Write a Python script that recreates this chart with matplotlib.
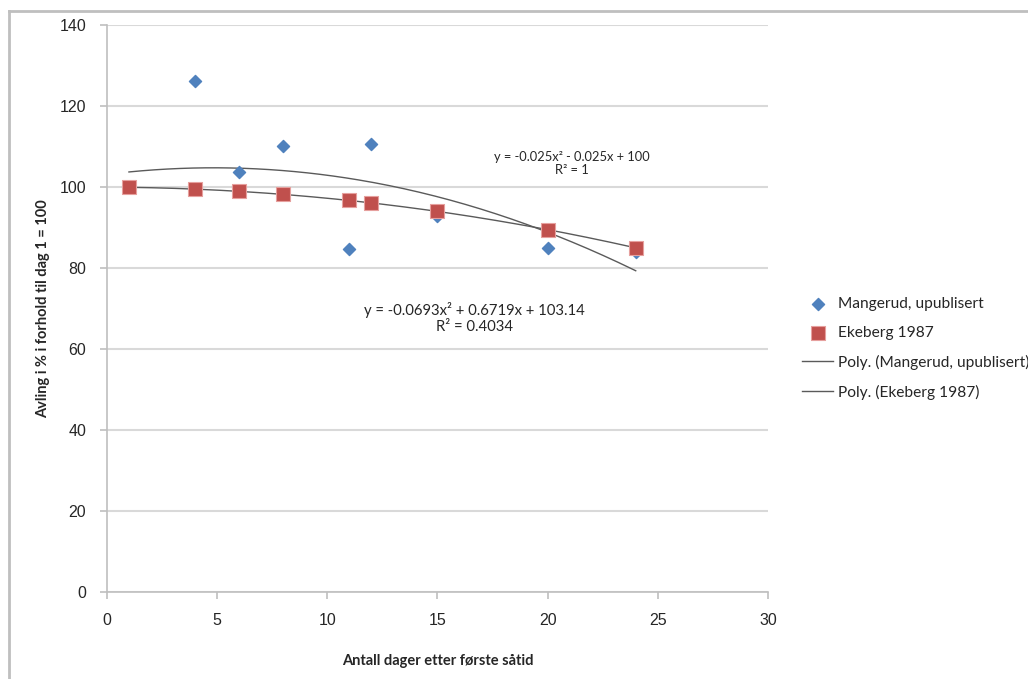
import numpy as np
import matplotlib.pyplot as plt
from matplotlib.lines import Line2D

# data
mangerud_x = [1, 4, 6, 8, 11, 12, 15, 20, 24]
mangerud_y = [100, 126.3, 103.8, 110.2, 84.8, 110.7, 92.9, 84.9, 83.9]
ekeberg_x = [1, 4, 6, 8, 11, 12, 15, 20, 24]
ekeberg_y = [99.95, 99.5, 98.95, 98.2, 96.7, 96.1, 94.0, 89.5, 85.0]
# trendline coefficients as labelled on the chart
mangerud_coef = [-0.0693, 0.6719, 103.14]
ekeberg_coef = [-0.025, -0.025, 100]

grid_col = '#d9d9d9'
txt_col = '#262626'

fig = plt.figure(figsize=(10.28, 6.79), dpi=100)
ax = fig.add_axes([0.104, 0.128, 0.643, 0.835])

ax.scatter(mangerud_x, mangerud_y, marker='D', s=38, color='#4F81BD', zorder=3,
           label='Mangerud, upublisert')
ax.scatter(ekeberg_x, ekeberg_y, marker='s', s=95, color='#C0504D',
           edgecolor='#E6A09E', linewidth=0.8, zorder=4, label='Ekeberg 1987')

xs = np.linspace(min(mangerud_x), max(mangerud_x), 200)
ax.plot(xs, np.polyval(mangerud_coef, xs), color='#5a5a5a', lw=1.0, zorder=2,
        label='Poly. (Mangerud, upublisert)')
xs2 = np.linspace(min(ekeberg_x), max(ekeberg_x), 200)
ax.plot(xs2, np.polyval(ekeberg_coef, xs2), color='#5a5a5a', lw=1.0, zorder=2,
        label='Poly. (Ekeberg 1987)')

ax.set_xlim(0, 30)
ax.set_ylim(0, 140)
ax.set_xticks(range(0, 31, 5))
ax.set_yticks(range(0, 141, 20))
ax.yaxis.grid(True, color=grid_col, lw=1.5)
ax.set_axisbelow(True)
for s in ['top', 'right']:
    ax.spines[s].set_visible(False)
for s in ['left', 'bottom']:
    ax.spines[s].set_color('#bfbfbf')
    ax.spines[s].set_linewidth(1.2)
ax.tick_params(axis='both', colors='#bfbfbf', length=5, width=1.2, labelcolor=txt_col,
               labelsize=11.5)
ax.tick_params(axis='y', pad=10)
ax.tick_params(axis='x', pad=10)
for lab in ax.get_xticklabels() + ax.get_yticklabels():
    lab.set_family('Liberation Sans')

ax.set_xlabel('Antall dager etter første såtid', family='Lato', fontweight='bold',
              fontsize=10.5, color=txt_col, labelpad=19)
ax.set_ylabel('Avling i % i forhold til dag 1 = 100', family='Lato', fontweight='bold',
              fontsize=10.5, color=txt_col, labelpad=7)

ax.text(21.1, 105.8, 'y = -0.025x² - 0.025x + 100\nR² = 1', ha='center', va='center',
        fontsize=9.3, family='Lato', color=txt_col, linespacing=1.15)
ax.text(16.7, 67.7, 'y = -0.0693x² + 0.6719x + 103.14\nR² = 0.4034', ha='center',
        va='center', fontsize=10.7, family='Lato', color=txt_col, linespacing=1.15)

leg = ax.legend(loc='center left', bbox_to_anchor=(1.0, 0.43), frameon=False,
                prop={'family': 'Lato', 'size': 11.2}, labelspacing=0.95,
                handlelength=2.0, handletextpad=0.3, borderaxespad=1.8)
for t in leg.get_texts():
    t.set_color(txt_col)

# chart area border (left and top edges)
fig.add_artist(Line2D([9 / 1028, 9 / 1028], [0, 1 - 11 / 679], transform=fig.transFigure,
                      color='#bfbfbf', lw=2))
fig.add_artist(Line2D([9 / 1028, 1], [1 - 11 / 679, 1 - 11 / 679], transform=fig.transFigure,
                      color='#bfbfbf', lw=2))

plt.savefig('out.png', dpi=100)
